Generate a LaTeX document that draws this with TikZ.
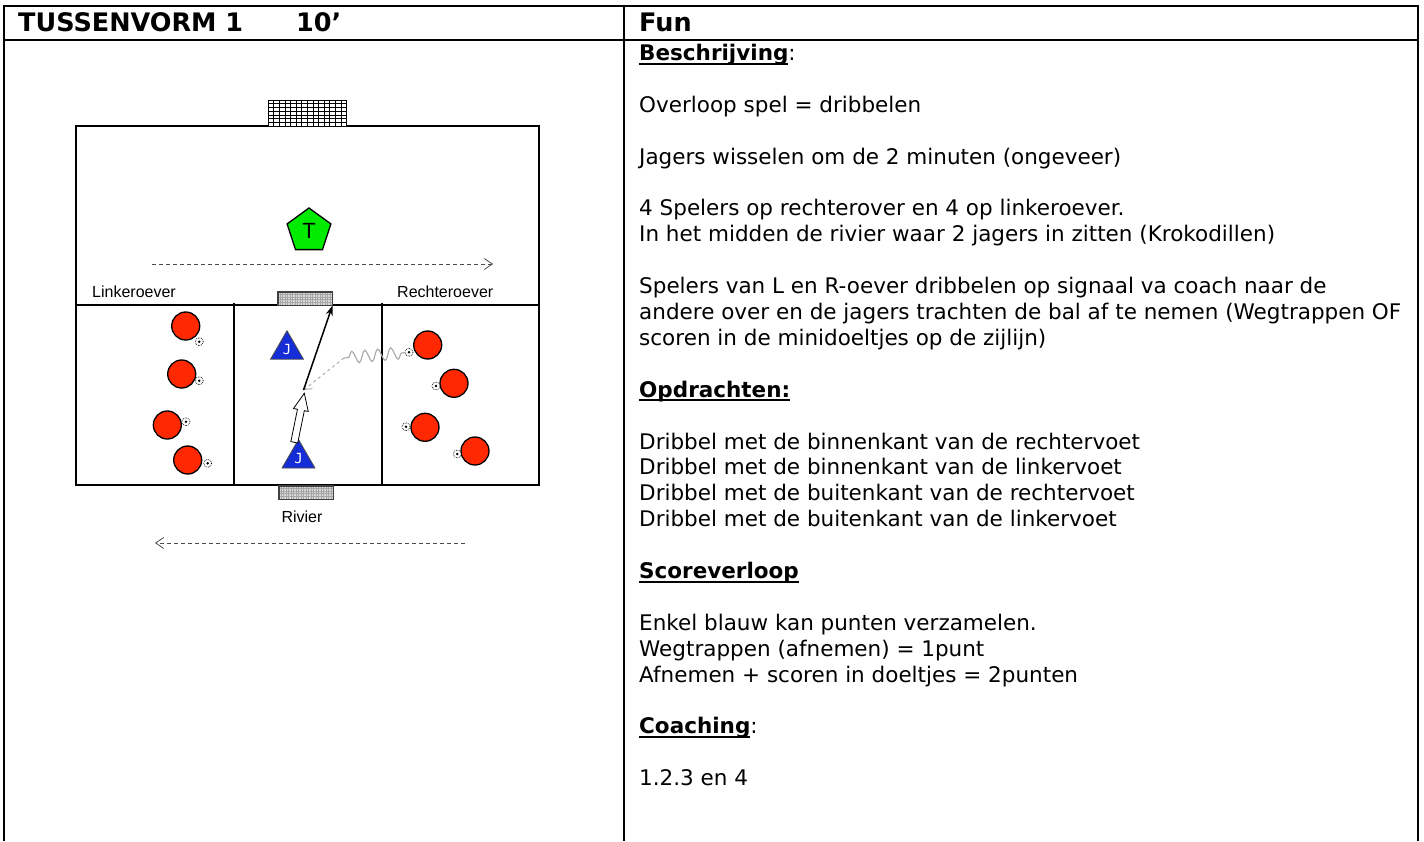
\documentclass[tikz,border=0pt]{standalone}
\usepackage{fontspec}
\setmainfont{DejaVu Sans}
\newfontfamily\arialf{Liberation Sans}
\newfontfamily\monof{DejaVu Sans Mono}
\newcommand\ulbox[1]{\setbox0\hbox{#1}\rlap{\rule[-4pt]{\wd0}{2pt}}\box0}
\usetikzlibrary{shapes.geometric,decorations.pathmorphing,arrows.meta}
\definecolor{pred}{RGB}{255,40,0}
\definecolor{pblue}{RGB}{20,45,215}
\definecolor{pgreen}{RGB}{0,235,0}
\begin{document}
\begin{tikzpicture}[x=1pt,y=-1pt,
  body/.style={anchor=base west, inner sep=0, font=\fontsize{21.5}{26}\selectfont},
  hdr/.style={anchor=base west, inner sep=0, font=\fontsize{25.5}{30}\selectfont\bfseries},
  lbl/.style={inner sep=0, font=\arialf\fontsize{16}{19}\selectfont},
  tline/.style={line width=2pt},
  fline/.style={line width=1.3pt},
  player/.style={circle, draw=black, line width=1.3pt, fill=pred, minimum size=28pt, inner sep=0},
  ball/.style={circle, draw=black, densely dotted, fill=white, minimum size=8pt, inner sep=0, line width=0.7pt},
  hunter/.style={regular polygon, regular polygon sides=3, fill=pblue, draw=black!70, line width=0.8pt, minimum size=38pt, inner sep=0, text=white, font=\monof\fontsize{14}{14}\selectfont},
  goalS/.style={draw=black!75, fill=gray!30, line width=1pt, inner sep=0, minimum width=54pt, minimum height=13pt},
  darr/.style={draw=black!70, dash pattern=on 4pt off 3pt, line width=0.8pt, -{Straight Barb[length=8pt,width=11pt]}},
]
\useasboundingbox (0,0) rectangle (1424,841);
% table
\draw[tline] (4,841) -- (4,6) -- (1418,6) -- (1418,841);
\draw[tline] (4,40) -- (1418,40);
\draw[tline] (624,6) -- (624,841);
\node[hdr] (h1) at (18,31) {TUSSENVORM 1};
\node[hdr] (h2) at (296,31) {10’};
\node[hdr] (h3) at (639,31) {Fun};
% right column text
\node[body] (t1) at (639,60.5) {\ulbox{\bfseries Beschrijving}:};
\node[body] (t2) at (639,112.3) {Overloop spel = dribbelen};
\node[body] (t3) at (639,164.1) {Jagers wisselen om de 2 minuten (ongeveer)};
\node[body] (t4) at (639,215.9) {4 Spelers op rechterover en 4 op linkeroever.};
\node[body] (t5) at (639,241.8) {In het midden de rivier waar 2 jagers in zitten (Krokodillen)};
\node[body] (t6) at (639,293.6) {Spelers van L en R-oever dribbelen op signaal va coach naar de};
\node[body] (t7) at (639,319.5) {andere over en de jagers trachten de bal af te nemen (Wegtrappen OF};
\node[body] (t8) at (639,345.4) {scoren in de minidoeltjes op de zijlijn)};
\node[body] (t9) at (639,397.2) {\ulbox{\bfseries Opdrachten:}};
\node[body] (t10) at (639,449.0) {Dribbel met de binnenkant van de rechtervoet};
\node[body] (t11) at (639,474.9) {Dribbel met de binnenkant van de linkervoet};
\node[body] (t12) at (639,500.8) {Dribbel met de buitenkant van de rechtervoet};
\node[body] (t13) at (639,526.7) {Dribbel met de buitenkant van de linkervoet};
\node[body] (t14) at (639,578.5) {\ulbox{\bfseries Scoreverloop}};
\node[body] (t15) at (639,630.3) {Enkel blauw kan punten verzamelen.};
\node[body] (t16) at (639,656.2) {Wegtrappen (afnemen) = 1punt};
\node[body] (t17) at (639,682.1) {Afnemen + scoren in doeltjes = 2punten};
\node[body] (t18) at (639,733.9) {\ulbox{\bfseries Coaching}:};
\node[body] (t19) at (639,785.7) {1.2.3 en 4};
% field
\draw[fline] (76,126) rectangle (539,485);
\draw[fline] (76,305) -- (539,305);
\draw[tline] (234,303) -- (234,486);
\draw[tline] (382,303) -- (382,486);
% big goal
\node[draw=black, fill=white, line width=1pt, inner sep=0, minimum width=78pt, minimum height=26pt] (g1) at (307,113) {};
\foreach \x in {273.6,279.2,...,341} \draw[line width=0.5pt] (\x,100) -- (\x,126);
\foreach \y in {103.7,107.4,...,123} \draw[line width=0.5pt] (268,\y) -- (346,\y);
% small goals
\node[goalS] (g2) at (305,298.5) {};
\node[goalS] (g3) at (306,492.5) {};
\foreach \x in {280,282.5,...,331} {
  \draw[gray!70, line width=0.3pt] (\x,292.5) -- (\x,304.5);
  \draw[gray!70, line width=0.3pt] (\x+1,486.5) -- (\x+1,498.5);
}
\foreach \y in {294.5,297,...,304} \draw[gray!70, line width=0.3pt] (278.5,\y) -- (331.5,\y);
\foreach \y in {488.5,491,...,498} \draw[gray!70, line width=0.3pt] (279.5,\y) -- (332.5,\y);
\draw[black!75, line width=1pt] (g2.south west) rectangle (g2.north east);
\draw[black!75, line width=1pt] (g3.south west) rectangle (g3.north east);
% labels
\node[lbl, anchor=west] (lk) at (92,292) {Linkeroever};
\node[lbl, anchor=west] (rk) at (397,292) {Rechteroever};
\node[lbl] (riv) at (302,517) {Rivier};
% trainer
\node[regular polygon, regular polygon sides=5, fill=pgreen, draw=black, line width=1.3pt, minimum size=46pt, inner sep=0, font=\arialf\fontsize{22}{22}\selectfont] (T) at (309,231) {T};
% dashed arrows
\coordinate (a1s) at (152,264);
\coordinate (a1e) at (493,264);
\coordinate (a2s) at (465,543);
\coordinate (a2e) at (155,543);
\draw[darr] (a1s) -- (a1e);
\draw[darr] (a2s) -- (a2e);
% players left
\node[player] (L1) at (185.7,326) {};
\node[player] (L2) at (181.7,374) {};
\node[player] (L3) at (167.3,425) {};
\node[player] (L4) at (187.7,460) {};
\node[ball] (lb1) at (199.3,341.7) {};
\node[ball] (lb2) at (199.3,380.7) {};
\node[ball] (lb3) at (186,421.7) {};
\node[ball] (lb4) at (207.7,463.3) {};
% players right
\node[player] (R1) at (427.7,345) {};
\node[player] (R2) at (454,383.3) {};
\node[player] (R3) at (425,427.3) {};
\node[player] (R4) at (475,451) {};
\node[ball] (rb1) at (409,352.3) {};
\node[ball] (rb2) at (436,386) {};
\node[ball] (rb3) at (406,426.7) {};
\node[ball] (rb4) at (457.3,454) {};
\foreach \b in {lb1,lb2,lb3,lb4,rb1,rb2,rb3,rb4} \fill (\b) circle (1.4pt);
% hunters
\node[hunter] (J1) at (287,349.7) {J};
\node[hunter] (J2) at (298.5,458.5) {J};
% actions
\coordinate (hit) at (303.5,390);
\coordinate (wv) at (344,358);
\draw[gray!70, line width=1.1pt, decorate, decoration={snake, amplitude=6pt, segment length=13pt, pre length=3pt, post length=2pt}] (rb1) -- (wv);
\draw[gray!70, line width=0.9pt, dashed, -{Straight Barb[length=7pt,width=9pt]}] (wv) -- (hit);
\draw[line width=1.5pt, -{Stealth[length=10pt,width=7pt]}] (hit) -- (g2.south east);
\draw[black, fill=white, line width=0.8pt, line join=miter] (290.87,441.6) -- (297.47,409.26) -- (293.55,408.46) -- (304.3,393.3) -- (308.25,411.46) -- (304.33,410.66) -- (297.73,443.0) -- cycle;
\end{tikzpicture}
\end{document}
